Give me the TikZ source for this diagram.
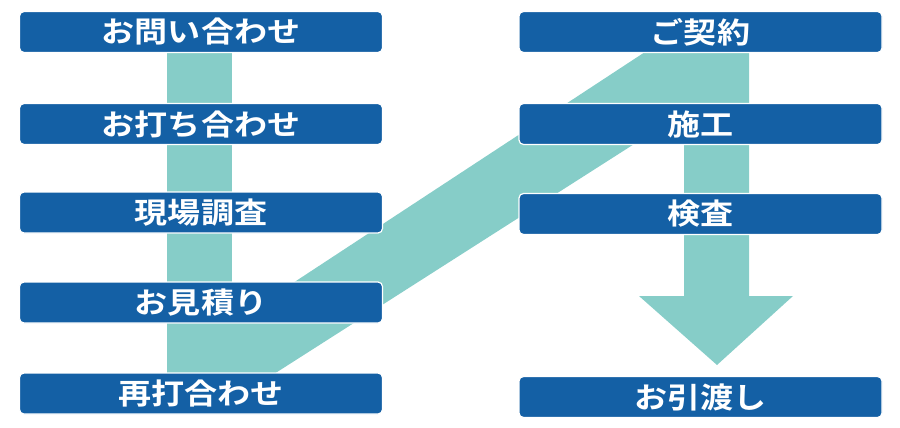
\documentclass[tikz,border=0pt]{standalone}
\usepackage{fontspec}
\newfontfamily\jpfont[FakeStretch=1.14]{Noto Sans CJK JP Bold}
\usetikzlibrary{backgrounds}
\definecolor{boxblue}{HTML}{1460A5}
\definecolor{teal1}{HTML}{86CDC8}
\tikzset{
  stepbox/.style={fill=boxblue, draw=white, line width=1.2pt, rounded corners=4.5pt,
    minimum height=41pt, inner sep=0pt, text=white, font=\jpfont\fontsize{29}{30}\selectfont},
  lbox/.style={stepbox, minimum width=363pt},
  band/.style={fill=teal1, draw=none}
}
\begin{document}
\begin{tikzpicture}[x=1pt,y=-1pt]
\useasboundingbox (0,0) rectangle (900,428);
% left column
\node[lbox] (a1) at (201,32) {お問い合わせ};
\node[lbox] (a2) at (201,124) {お打ち合わせ};
\node[lbox] (a3) at (201,212.5) {現場調査};
\node[lbox] (a4) at (201,302.5) {お見積り};
\node[lbox] (a5) at (201,393.5) {再打合わせ};
% right column
\node[lbox] (b1) at (700.5,32) {ご契約};
\node[lbox] (b2) at (700.5,124) {施工};
\node[lbox] (b3) at (700.5,214) {検査};
\node[lbox] (b4) at (700.5,397) {お引渡し};
\begin{scope}[on background layer]
  % left vertical strip
  \fill[band] (167,52) rectangle (232,374);
  % diagonal band
  \fill[band] (232,323) -- (645,52) -- (700,52) -- (700,102) -- (274,374) -- (232,374) -- cycle;
  % right strip with arrow head
  \fill[band] (684,52) -- (749,52) -- (749,296) -- (793,296) -- (717,365) -- (639,296) -- (684,296) -- cycle;
\end{scope}
\end{tikzpicture}
\end{document}
